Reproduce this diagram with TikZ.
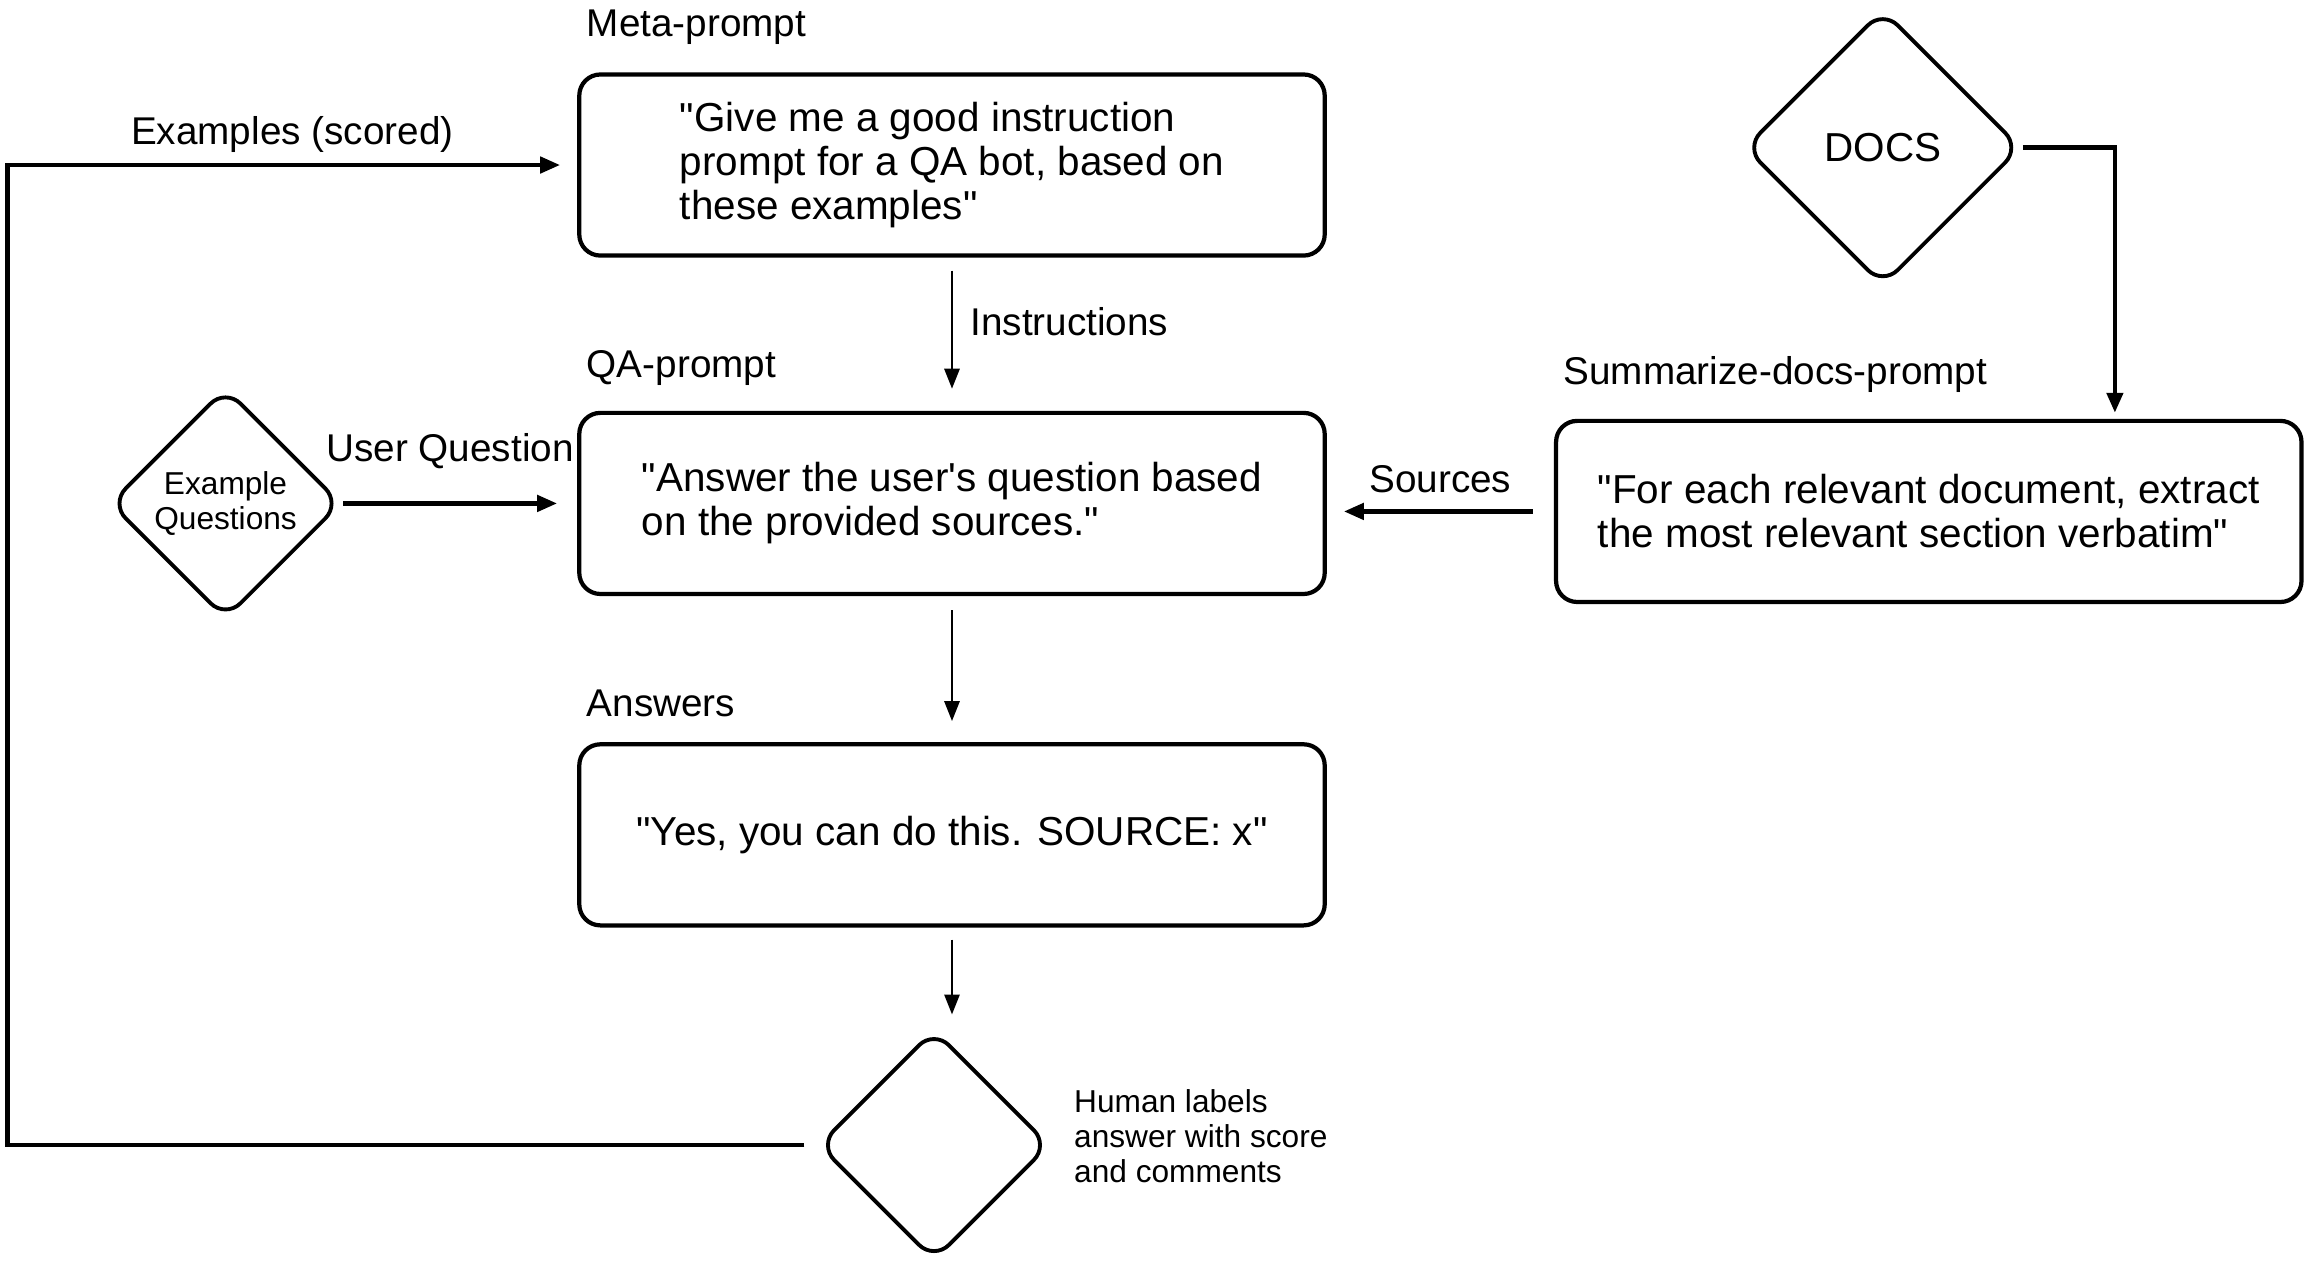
\documentclass[tikz,border=0pt]{standalone}
\usepackage{fontspec}
\setmainfont{Liberation Sans}[Ligatures=TeXOff]
\usetikzlibrary{arrows.meta,positioning,shapes.geometric}

\begin{document}
\begin{tikzpicture}[
    x=0.01cm, y=-0.01cm,
    every node/.style={font=\fontsize{11.5}{12.5}\selectfont},
    promptbox/.style={rectangle, draw, line width=1.2pt, rounded corners=6pt,
        minimum width=7.45cm, minimum height=1.81cm, align=left, inner sep=0pt},
    decision/.style={diamond, draw, line width=1.1pt, rounded corners=6pt,
        minimum width=2.31cm, minimum height=2.31cm, inner sep=0pt, align=center},
    boxlabel/.style={inner sep=0pt, font=\fontsize{11}{12}\selectfont},
    smalltext/.style={align=left, inner sep=0pt, font=\fontsize{9}{10}\selectfont},
    flowarrow/.style={-{Triangle[length=2mm, width=1.5mm]}, line width=0.8pt},
    thickarrow/.style={-{Triangle[length=2mm, width=1.6mm]}, line width=1.3pt},
]
\useasboundingbox (0,0) rectangle (2308,1265);

% ===== Prompt boxes =====
\node[promptbox] (meta) at (952,165)
    {"Give me a good instruction\\prompt for a QA bot, based on\\these examples"};
\node[promptbox, below=1.53cm of meta] (qa)
    {"Answer the user's question based\\on the provided sources."};
\node[promptbox, below=1.46cm of qa] (ans)
    {"Yes, you can do this. SOURCE: x"};
\node[promptbox, right=2.27cm of qa, yshift=-0.08cm] (summ)
    {"For each relevant document, extract\\the most relevant section verbatim"};

% Titles
\node[boxlabel, above right=0.27cm and 0.09cm of meta.north west] (metalbl) {Meta-prompt};
\node[boxlabel, above right=0.25cm and 0.09cm of qa.north west] (qalbl) {QA-prompt};
\node[boxlabel, above right=0.25cm and 0.09cm of ans.north west] (anslbl) {Answers};
\node[boxlabel, above right=0.26cm and 0.09cm of summ.north west] (summlbl) {Summarize-docs-prompt};

% ===== Diamonds =====
\node[decision, minimum width=2.76cm, minimum height=2.76cm,
    above=1.31cm of summ, xshift=-0.46cm] (docs) {DOCS};
\node[decision, font=\fontsize{9}{10}\selectfont,
    left=2.34cm of qa] (exq) {Example\\Questions};
\node[decision, below=1.0cm of ans, xshift=-0.18cm] (review) {};
\node[smalltext, right=0.22cm of review, yshift=0.09cm] (reviewnote)
    {Human labels\\answer with score\\and comments};

% ===== Connectors =====
\draw[flowarrow, shorten <=0.13cm, shorten >=0.22cm] (meta.south) -- (qa.north)
    node[boxlabel, midway, right=0.17cm, yshift=0.13cm] (instrlbl) {Instructions};
\draw[flowarrow, shorten <=0.14cm, shorten >=0.21cm] (qa.south) -- (ans.north);
\draw[flowarrow, shorten <=0.12cm, shorten >=0.13cm] (ans.south) -- (ans.south |- review.north);

\draw[thickarrow, shorten >=0.2cm] (exq.east) -- (exq.east -| qa.west)
    node[boxlabel, midway, above=0.32cm, xshift=-0.1cm] (uqlbl) {User Question};
\draw[thickarrow, shorten <=0.21cm, shorten >=0.17cm] (summ.west) -- (summ.west -| qa.east)
    node[boxlabel, midway, above=0.16cm] (srclbl) {Sources};
\draw[thickarrow, shorten >=0.06cm] (docs.east) -| ([xshift=1.86cm]summ.north);

% feedback loop
\draw[thickarrow, shorten <=0.12cm, shorten >=0.17cm] (review.west) -- ++(-809,0) |- (meta.west)
    node[boxlabel, pos=0.75, above=0.1cm] (exlbl) {Examples (scored)};

\end{tikzpicture}
\end{document}
